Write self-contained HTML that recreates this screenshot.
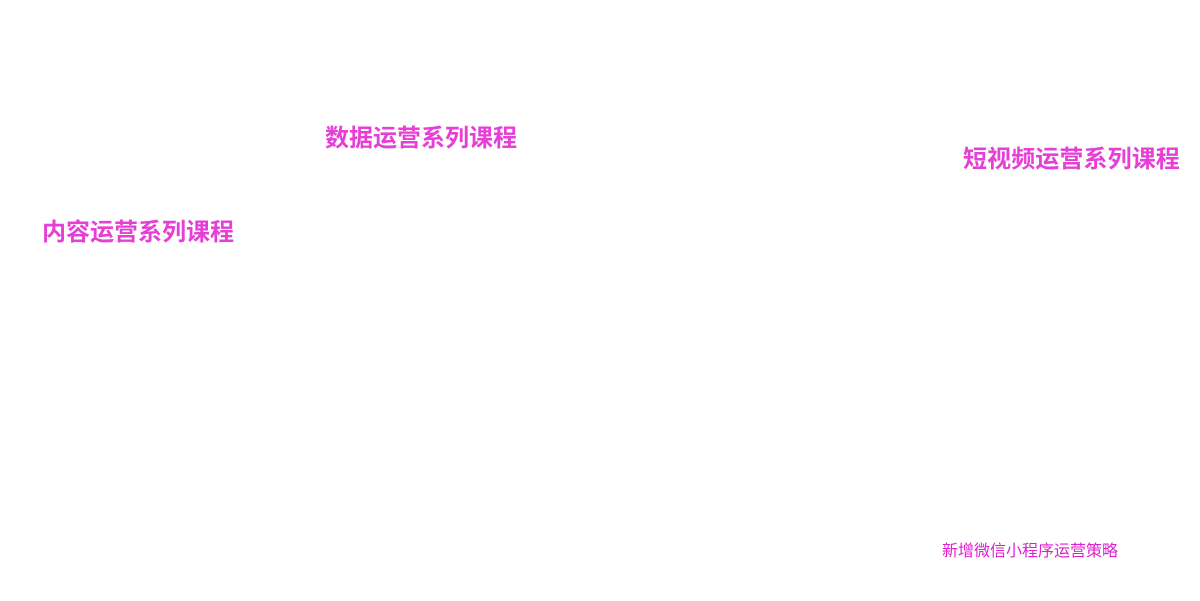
<!DOCTYPE html>
<html><head><meta charset="utf-8"><style>
html,body{margin:0;padding:0;background:#fff;width:1200px;height:601px;overflow:hidden}
.t{position:absolute;white-space:nowrap;font-family:"Liberation Sans","Noto Sans CJK SC",sans-serif;color:#e63fd6;line-height:1}
.b{font-weight:bold;font-size:24px;letter-spacing:0}
</style></head><body>
<div class="t b" style="left:325px;top:127px">数据运营系列课程</div>
<div class="t b" style="left:42px;top:221px">内容运营系列课程</div>
<div class="t b" style="left:963px;top:148px;letter-spacing:0.1px">短视频运营系列课程</div>
<div class="t" style="left:942px;top:544px;font-size:16px;color:#e01fd2">新增微信小程序运营策略</div>
</body></html>
